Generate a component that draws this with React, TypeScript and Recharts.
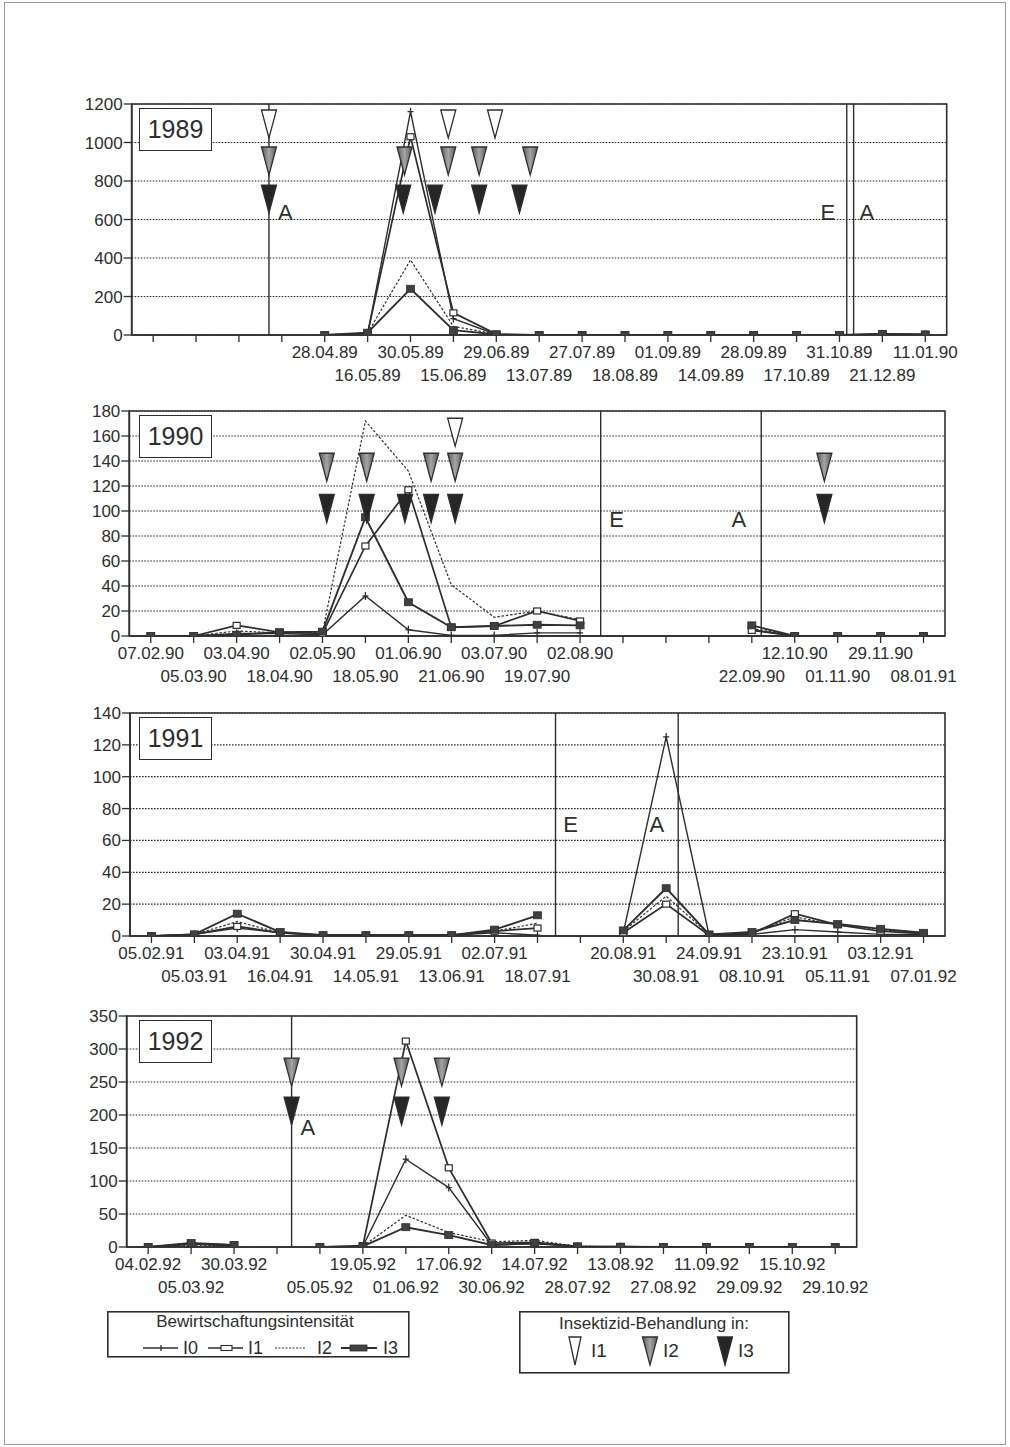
import React from 'react';
import {
  ComposedChart, Line, Scatter, XAxis, YAxis, CartesianGrid,
  ReferenceLine, ReferenceArea,
} from 'recharts';

const FONT = '"Liberation Sans", Arial, Helvetica, sans-serif';
const INK = '#2e2e2e';
const n = null;

// ---------- 1989 ----------
const labels1989 = ['', '', '', '', '28.04.89', '16.05.89', '30.05.89', '15.06.89', '29.06.89', '13.07.89', '27.07.89', '18.08.89', '01.09.89', '14.09.89', '28.09.89', '17.10.89', '31.10.89', '21.12.89', '11.01.90'];
const i0_1989 = [n, n, n, n, 0, 6, 1160, 85, 3, 0, 0, 0, 0, 0, 0, 0, 0, 4, 2];
const i1_1989 = [n, n, n, n, 0, 8, 1030, 115, 5, 0, 0, 0, 0, 0, 0, 0, 0, 5, 3];
const i2_1989 = [n, n, n, n, 0, 10, 390, 45, 4, 0, 0, 0, 0, 0, 0, 0, 0, 4, 2];
const i3_1989 = [n, n, n, n, 0, 12, 240, 25, 3, 0, 0, 0, 0, 0, 0, 0, 0, 6, 3];
const yTicks1989 = [0, 200, 400, 600, 800, 1000, 1200];
const borders1989 = [2.7, 16.17, 16.33];
const marks1989 = [{ x: 3.08, y: 634, t: 'A' }, { x: 15.73, y: 634, t: 'E' }, { x: 16.64, y: 634, t: 'A' }];
const treatI1_1989 = [2.7, 6.88, 7.97];
const treatI2_1989 = [2.7, 5.86, 6.88, 7.6, 8.79];
const treatI3_1989 = [2.7, 5.83, 6.57, 7.6, 8.54];

// ---------- 1990 ----------
const labels1990 = ['07.02.90', '05.03.90', '03.04.90', '18.04.90', '02.05.90', '18.05.90', '01.06.90', '21.06.90', '03.07.90', '19.07.90', '02.08.90', '', '', '', '22.09.90', '12.10.90', '01.11.90', '29.11.90', '08.01.91'];
const i0_1990 = [0, 0, 2, 2, 1, 32, 5, 0.5, 0.5, 2.5, 2.5, n, n, n, 5, 0, 0, 0, 0];
const i1_1990 = [0, 0, 8.5, 3, 2, 72, 117, 7, 8, 20, 12, n, n, n, 4.5, 0, 0, 0, 0];
const i2_1990 = [0, 0, 4, 2.5, 3, 172, 132, 41, 15, 20, 13, n, n, n, 6, 0, 0, 0, 0];
const i3_1990 = [0, 0, 1, 3, 3.5, 95, 27, 7, 8, 9, 8.5, n, n, n, 8.5, 0, 0, 0, 0];
const yTicks1990 = [0, 20, 40, 60, 80, 100, 120, 140, 160, 180];
const borders1990 = [10.48, 14.22];
const marks1990 = [{ x: 10.85, y: 93, t: 'E' }, { x: 13.7, y: 93, t: 'A' }];
const treatI1_1990 = [7.09];
const treatI2_1990 = [4.1, 5.03, 6.53, 7.09, 15.69];
const treatI3_1990 = [4.1, 5.03, 5.92, 6.53, 7.09, 15.69];

// ---------- 1991 ----------
const labels1991 = ['05.02.91', '05.03.91', '03.04.91', '16.04.91', '30.04.91', '14.05.91', '29.05.91', '13.06.91', '02.07.91', '18.07.91', '', '20.08.91', '30.08.91', '24.09.91', '08.10.91', '23.10.91', '05.11.91', '03.12.91', '07.01.92'];
const i0_1991 = [0, 1, 5, 2, 0.5, 0.5, 0.5, 0.5, 2, 0.5, n, 2, 125, 0.5, 1, 4, 2.5, 1, 1];
const i1_1991 = [0, 1, 6, 2, 0.5, 0.5, 0.5, 0.5, 3, 5, n, 2, 20, 0.5, 1.5, 14, 7, 3, 1.5];
const i2_1991 = [0, 1, 9, 2, 0.5, 0.5, 0.5, 0.5, 3, 8, n, 3, 25, 1, 2, 12, 7, 4, 1.5];
const i3_1991 = [0, 1, 14, 2.5, 0.5, 0.5, 0.5, 0.5, 4, 13, n, 3.5, 30, 1, 2.5, 10, 7.5, 4.5, 2];
const yTicks1991 = [0, 20, 40, 60, 80, 100, 120, 140];
const borders1991 = [9.42, 12.28];
const marks1991 = [{ x: 9.77, y: 70, t: 'E' }, { x: 11.78, y: 70, t: 'A' }];

// ---------- 1992 ----------
const labels1992 = ['04.02.92', '05.03.92', '30.03.92', '', '05.05.92', '19.05.92', '01.06.92', '17.06.92', '30.06.92', '14.07.92', '28.07.92', '13.08.92', '27.08.92', '11.09.92', '29.09.92', '15.10.92', '29.10.92'];
const i0_1992 = [0, 4, 2, n, 0, 1, 133, 90, 3, 5, 1, 0.5, 0, 0, 0, 0, 0];
const i1_1992 = [0, 5, 3, n, 0, 2, 312, 120, 6, 7, 1, 0.5, 0, 0, 0, 0, 0];
const i2_1992 = [0, 3, 2, n, 0, 1, 48, 22, 8, 10, 1, 0.5, 0, 0, 0, 0, 0];
const i3_1992 = [0, 6, 3, n, 0, 1, 30, 18, 3, 6, 1, 0.5, 0, 0, 0, 0, 0];
const yTicks1992 = [0, 50, 100, 150, 200, 250, 300, 350];
const borders1992 = [3.34];
const marks1992 = [{ x: 3.72, y: 180, t: 'A' }];
const treatI2_1992 = [3.34, 5.9, 6.84];
const treatI3_1992 = [3.34, 5.9, 6.84];

type Cfg = {
  id: string; year: string; labels: string[];
  i0: (number | null)[]; i1: (number | null)[]; i2: (number | null)[]; i3: (number | null)[];
  yTicks: number[]; borders: number[]; marks: { x: number; y: number; t: string }[];
  t1: number[]; t2: number[]; t3: number[]; rowY: [number, number, number];
  left: number; right: number; top: number; bottom: number;
};

const panels: Cfg[] = [
  { id: 'p89', year: '1989', labels: labels1989, i0: i0_1989, i1: i1_1989, i2: i2_1989, i3: i3_1989, yTicks: yTicks1989, borders: borders1989, marks: marks1989, t1: treatI1_1989, t2: treatI2_1989, t3: treatI3_1989, rowY: [1096, 904, 706], left: 131.7, right: 946.7, top: 104, bottom: 335 },
  { id: 'p90', year: '1990', labels: labels1990, i0: i0_1990, i1: i1_1990, i2: i2_1990, i3: i3_1990, yTicks: yTicks1990, borders: borders1990, marks: marks1990, t1: treatI1_1990, t2: treatI2_1990, t3: treatI3_1990, rowY: [163, 135, 102], left: 129.3, right: 945, top: 411, bottom: 636 },
  { id: 'p91', year: '1991', labels: labels1991, i0: i0_1991, i1: i1_1991, i2: i2_1991, i3: i3_1991, yTicks: yTicks1991, borders: borders1991, marks: marks1991, t1: [], t2: [], t3: [], rowY: [0, 0, 0], left: 130, right: 945, top: 713, bottom: 936 },
  { id: 'p92', year: '1992', labels: labels1992, i0: i0_1992, i1: i1_1992, i2: i2_1992, i3: i3_1992, yTicks: yTicks1992, borders: borders1992, marks: marks1992, t1: [], t2: treatI2_1992, t3: treatI3_1992, rowY: [0, 265, 206], left: 126.7, right: 856.7, top: 1016, bottom: 1247 },
];

const crossDot = (p: any) => {
  const { cx, cy, index } = p;
  if (cx == null || cy == null || isNaN(cy)) return <g key={'c' + index} />;
  return (
    <g key={'c' + index}>
      <line x1={cx - 3} x2={cx + 3} y1={cy} y2={cy} stroke={INK} strokeWidth={1.3} />
      <line x1={cx} x2={cx} y1={cy - 4} y2={cy + 4} stroke={INK} strokeWidth={1.3} />
    </g>
  );
};
const openDot = (p: any) => {
  const { cx, cy, index } = p;
  if (cx == null || cy == null || isNaN(cy)) return <g key={'o' + index} />;
  return <rect key={'o' + index} x={cx - 3.5} y={cy - 3} width={7} height={6} fill="#fff" stroke={INK} strokeWidth={1.2} />;
};
const fillDot = (p: any) => {
  const { cx, cy, index } = p;
  if (cx == null || cy == null || isNaN(cy)) return <g key={'f' + index} />;
  return <rect key={'f' + index} x={cx - 4} y={cy - 3.5} width={8} height={7} fill="#404040" stroke={INK} strokeWidth={0.8} />;
};

const triPath = (cx: number, cy: number, w = 15, h = 28) =>
  `M${cx - w / 2},${cy - h / 2} L${cx + w / 2},${cy - h / 2} L${cx},${cy + h / 2} Z`;

const makeTri = (fill: string) => (p: any) => {
  const { cx, cy } = p;
  if (cx == null || cy == null) return <g />;
  return <path d={triPath(cx, cy)} fill={fill} stroke={INK} strokeWidth={1.3} strokeLinejoin="miter" />;
};

const textShape = (p: any) => {
  const { cx, cy, payload } = p;
  if (cx == null || cy == null) return <g />;
  return (
    <text x={cx} y={cy + 7} textAnchor="middle" fontSize={22} fontFamily={FONT} fill={INK}>
      {payload.t}
    </text>
  );
};

function Panel({ cfg }: { cfg: Cfg }) {
  const count = cfg.labels.length;
  const data = cfg.labels.map((l, i) => ({ x: i, i0: cfg.i0[i], i1: cfg.i1[i], i2: cfg.i2[i], i3: cfg.i3[i] }));
  let k = 0;
  const rows = cfg.labels.map((l) => (l ? k++ % 2 : 0));
  const topPad = 14;
  const axisH = 62;
  const plotH = cfg.bottom - cfg.top;
  const height = topPad + plotH + axisH;
  const yMax = cfg.yTicks[cfg.yTicks.length - 1];
  const xTicks = cfg.labels.map((_, i) => i);
  const gid = 'grad' + cfg.id;

  const renderTick = (props: any) => {
    const { x, y, payload } = props;
    const i = Math.round(payload.value);
    const lab = cfg.labels[i];
    if (!lab) return <g />;
    return (
      <text x={x} y={y + 14 + rows[i] * 23} textAnchor="middle" fontSize={17} fontFamily={FONT} fill={INK}>
        {lab}
      </text>
    );
  };

  return (
    <div style={{ position: 'absolute', left: 0, top: cfg.top - topPad, width: 1010, height }}>
      <ComposedChart
        width={1010}
        height={height}
        data={data}
        margin={{ top: topPad, right: 1010 - cfg.right, bottom: 0, left: 0 }}
      >
        <defs>
          <linearGradient id={gid} x1="0" y1="0" x2="1" y2="0">
            <stop offset="0%" stopColor="#5a5a5a" />
            <stop offset="50%" stopColor="#a4a4a4" />
            <stop offset="100%" stopColor="#5a5a5a" />
          </linearGradient>
        </defs>
        <CartesianGrid vertical={false} stroke="#2a2a2a" strokeDasharray="1.6 1.4" strokeWidth={1.2} />
        <XAxis
          type="number"
          dataKey="x"
          domain={[-0.5, count - 0.5]}
          ticks={xTicks}
          interval={0}
          allowDataOverflow
          height={axisH}
          tickSize={7}
          tickLine={{ stroke: INK, strokeWidth: 1.3 }}
          axisLine={{ stroke: INK, strokeWidth: 1.6 }}
          tick={renderTick}
        />
        <YAxis
          type="number"
          domain={[0, yMax]}
          ticks={cfg.yTicks}
          interval={0}
          allowDataOverflow
          width={cfg.left}
          tickSize={8}
          tickMargin={1}
          tickLine={{ stroke: INK, strokeWidth: 1.3 }}
          axisLine={{ stroke: INK, strokeWidth: 1.6 }}
          tick={{ fontSize: 17, fill: INK, fontFamily: FONT }}
        />
        <ReferenceArea x1={-0.5} x2={count - 0.5} y1={0} y2={yMax} fill="none" fillOpacity={0} stroke={INK} strokeWidth={1.6} ifOverflow="visible" />
        {cfg.borders.map((b, i) => (
          <ReferenceLine key={'b' + i} x={b} stroke={INK} strokeWidth={1.4} ifOverflow="visible" />
        ))}
        <Line dataKey="i2" stroke={INK} strokeWidth={1.2} strokeDasharray="2.5 1.8" dot={false} activeDot={false} isAnimationActive={false} />
        <Line dataKey="i0" stroke={INK} strokeWidth={1.4} dot={crossDot} activeDot={false} isAnimationActive={false} />
        <Line dataKey="i1" stroke={INK} strokeWidth={1.7} dot={openDot} activeDot={false} isAnimationActive={false} />
        <Line dataKey="i3" stroke={INK} strokeWidth={1.9} dot={fillDot} activeDot={false} isAnimationActive={false} />
        {cfg.t1.length > 0 && (
          <Scatter data={cfg.t1.map((x) => ({ x, y: cfg.rowY[0] }))} dataKey="y" shape={makeTri('#fff')} isAnimationActive={false} />
        )}
        {cfg.t2.length > 0 && (
          <Scatter data={cfg.t2.map((x) => ({ x, y: cfg.rowY[1] }))} dataKey="y" shape={makeTri(`url(#${gid})`)} isAnimationActive={false} />
        )}
        {cfg.t3.length > 0 && (
          <Scatter data={cfg.t3.map((x) => ({ x, y: cfg.rowY[2] }))} dataKey="y" shape={makeTri('#262626')} isAnimationActive={false} />
        )}
        <Scatter data={cfg.marks} dataKey="y" shape={textShape} isAnimationActive={false} />
      </ComposedChart>
      <div
        style={{
          position: 'absolute', left: 139, top: topPad + 4, width: 71, height: 41,
          border: `1.6px solid ${INK}`, background: '#fff', color: INK,
          fontFamily: FONT, fontSize: 25, lineHeight: '41px', textAlign: 'center',
        }}
      >
        {cfg.year}
      </div>
    </div>
  );
}

const seriesLegend = ['I0', 'I1', 'I2', 'I3'];
const treatLegend = ['I1', 'I2', 'I3'];

function LegendSeries() {
  return (
    <svg width={303} height={47} style={{ position: 'absolute', left: 107, top: 1311 }}>
      <rect x={0.8} y={0.8} width={301} height={45} fill="#fff" stroke={INK} strokeWidth={1.6} />
      <text x={148} y={16} textAnchor="middle" fontSize={17} fontFamily={FONT} fill={INK}>Bewirtschaftungsintensität</text>
      <line x1={36} x2={71} y1={37} y2={37} stroke={INK} strokeWidth={1.4} />
      <line x1={54} x2={54} y1={34} y2={40} stroke={INK} strokeWidth={1.3} />
      <text x={76} y={43} fontSize={18} fontFamily={FONT} fill={INK}>{seriesLegend[0]}</text>
      <line x1={101} x2={136} y1={37} y2={37} stroke={INK} strokeWidth={1.7} />
      <rect x={114} y={34.5} width={11} height={5} fill="#fff" stroke={INK} strokeWidth={1.1} />
      <text x={141} y={43} fontSize={18} fontFamily={FONT} fill={INK}>{seriesLegend[1]}</text>
      <line x1={168} x2={199} y1={37} y2={37} stroke={INK} strokeWidth={1.2} strokeDasharray="2 1.5" />
      <text x={210} y={43} fontSize={18} fontFamily={FONT} fill={INK}>{seriesLegend[2]}</text>
      <line x1={234} x2={270} y1={37} y2={37} stroke={INK} strokeWidth={1.9} />
      <rect x={243} y={34} width={17} height={6} fill="#404040" stroke={INK} strokeWidth={0.8} />
      <text x={276} y={43} fontSize={18} fontFamily={FONT} fill={INK}>{seriesLegend[3]}</text>
    </svg>
  );
}

function LegendTreat() {
  const items = [
    { cx: 56, fill: '#fff', tx: 72, w: 12 },
    { cx: 131, fill: 'url(#legGrad)', tx: 144, w: 15 },
    { cx: 206, fill: '#262626', tx: 219, w: 15 },
  ];
  return (
    <svg width={271} height={63} style={{ position: 'absolute', left: 519, top: 1311 }}>
      <defs>
        <linearGradient id="legGrad" x1="0" y1="0" x2="1" y2="0">
          <stop offset="0%" stopColor="#5a5a5a" />
          <stop offset="50%" stopColor="#a4a4a4" />
          <stop offset="100%" stopColor="#5a5a5a" />
        </linearGradient>
      </defs>
      <rect x={0.8} y={0.8} width={269} height={61} fill="#fff" stroke={INK} strokeWidth={1.6} />
      <text x={135} y={18} textAnchor="middle" fontSize={17} fontFamily={FONT} fill={INK}>Insektizid-Behandlung in:</text>
      {items.map((it, i) => (
        <g key={i}>
          <path d={triPath(it.cx, 40, it.w, 28)} fill={it.fill} stroke={INK} strokeWidth={1.3} />
          <text x={it.tx} y={46} fontSize={19} fontFamily={FONT} fill={INK}>{treatLegend[i]}</text>
        </g>
      ))}
    </svg>
  );
}

export default function App() {
  return (
    <div style={{ position: 'absolute', left: 0, top: 0, width: 1010, height: 1447, background: '#fff', overflow: 'hidden' }}>
      <div style={{ position: 'absolute', left: 4, top: 2, width: 1000, height: 1441, border: '1px solid #9a9a9a' }} />
      {panels.map((p) => (
        <Panel key={p.id} cfg={p} />
      ))}
      <LegendSeries />
      <LegendTreat />
    </div>
  );
}
